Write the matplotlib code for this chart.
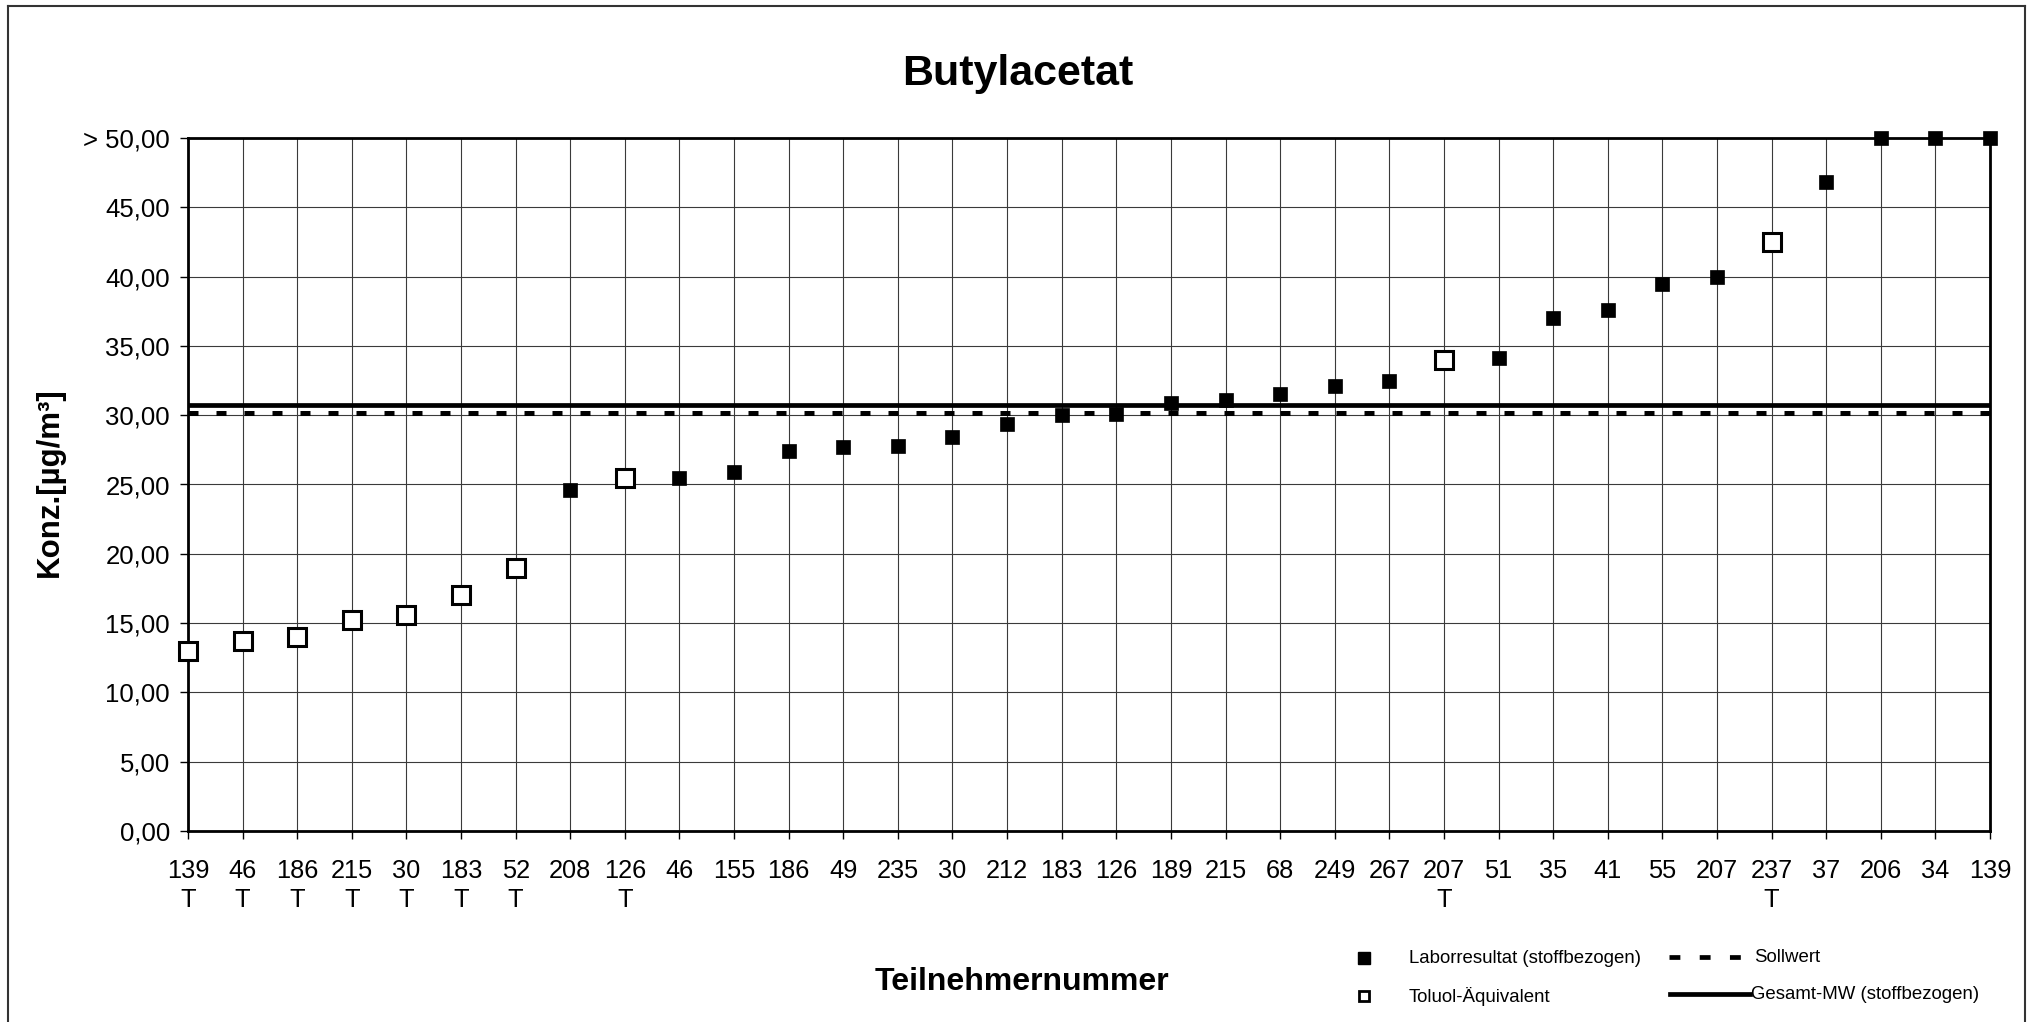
import matplotlib

matplotlib.use("Agg")
import matplotlib.pyplot as plt
from matplotlib.lines import Line2D

plt.rcParams["font.family"] = ["Liberation Sans", "DejaVu Sans"]

# Teilnehmernummer (sorted by result) and whether the value is a toluene equivalent
participants = ["139", "46", "186", "215", "30", "183", "52", "208", "126", "46",
                "155", "186", "49", "235", "30", "212", "183", "126", "189", "215",
                "68", "249", "267", "207", "51", "35", "41", "55", "207", "237",
                "37", "206", "34", "139"]
is_toluol = [True, True, True, True, True, True, True, False, True, False,
             False, False, False, False, False, False, False, False, False, False,
             False, False, False, True, False, False, False, False, False, True,
             False, False, False, False]
konz = [13.0, 13.7, 14.0, 15.2, 15.6, 17.0, 19.0, 24.6, 25.5, 25.5,
        25.9, 27.4, 27.7, 27.8, 28.4, 29.4, 30.0, 30.1, 30.9, 31.1,
        31.5, 32.1, 32.5, 34.0, 34.1, 37.0, 37.6, 39.5, 40.0, 42.5,
        46.8, 50.0, 50.0, 50.0]
sollwert = 30.15
gesamt_mw = 30.75

y_ticks = [0, 5, 10, 15, 20, 25, 30, 35, 40, 45, 50]

W, H = 2035, 1022
fig = plt.figure(figsize=(W / 100, H / 100), dpi=100)
ax = fig.add_axes([188 / W, 1 - 831 / H, (1990 - 188) / W, (831 - 138) / H])

x = list(range(len(konz)))
ax.set_xlim(0, len(konz) - 1)
ax.set_ylim(0, 50)

ax.grid(True, color="#3a3a3a", linewidth=0.8, zorder=0)
ax.set_axisbelow(True)

ax.axhline(sollwert, color="black", linewidth=3.6, dashes=(2.0, 3.6), zorder=3)
ax.axhline(gesamt_mw, color="black", linewidth=3.4, zorder=3)

xf = [xi for xi, t in zip(x, is_toluol) if not t]
yf = [yi for yi, t in zip(konz, is_toluol) if not t]
xt = [xi for xi, t in zip(x, is_toluol) if t]
yt = [yi for yi, t in zip(konz, is_toluol) if t]
ax.plot(xf, yf, linestyle="none", marker="s", markersize=10.5, color="black",
        markeredgewidth=0.5, zorder=4, clip_on=False)
ax.plot(xt, yt, linestyle="none", marker="s", markersize=12.4, markerfacecolor="white",
        markeredgecolor="black", markeredgewidth=2.2, zorder=4, clip_on=False)

ax.set_xticks(x)
ax.set_xticklabels([p + ("\nT" if t else "") for p, t in zip(participants, is_toluol)],
                   fontsize=18.3, linespacing=1.3, va="top")
ax.set_yticks(y_ticks)
ax.set_yticklabels([("> " if v == 50 else "") + f"{v},00" for v in y_ticks], fontsize=18.5)
ax.tick_params(axis="both", direction="out", length=6, width=1, color="black")
ax.tick_params(axis="x", pad=14)
ax.tick_params(axis="y", pad=7)

for spine in ax.spines.values():
    spine.set_linewidth(2.0)
    spine.set_color("black")

fig.text(0.5, 1 - 74 / H, "Butylacetat", fontsize=31, fontweight="bold",
         ha="center", va="center")
fig.text(0.502, 1 - 982 / H, "Teilnehmernummer", fontsize=23, fontweight="bold",
         ha="center", va="center")
fig.text(50 / W, 1 - 482 / H, "Konz.[µg/m³]", fontsize=22.5, fontweight="bold",
         ha="center", va="center", rotation=90)

# legend, drawn by hand in figure pixels
def fx(px):
    return px / W


def fy(py):
    return 1 - py / H


fig.add_artist(Line2D([fx(1364)], [fy(958)], marker="s", markersize=9, color="black",
                      linestyle="none", transform=fig.transFigure))
fig.add_artist(Line2D([fx(1364)], [fy(996)], marker="s", markersize=7,
                      markerfacecolor="white", markeredgecolor="black",
                      markeredgewidth=2.0, linestyle="none", transform=fig.transFigure))
fig.add_artist(Line2D([fx(1669), fx(1742)], [fy(957), fy(957)], color="black",
                      linewidth=3.4, dashes=(2.3, 4.1), transform=fig.transFigure))
fig.add_artist(Line2D([fx(1670), fx(1750)], [fy(994), fy(994)], color="black",
                      linewidth=3.4, transform=fig.transFigure))
legend_font = 13.4
fig.text(fx(1409), fy(958), "Laborresultat (stoffbezogen)", fontsize=legend_font, va="center")
fig.text(fx(1409), fy(996), "Toluol-Äquivalent", fontsize=legend_font, va="center")
fig.text(fx(1754), fy(957), "Sollwert", fontsize=legend_font, va="center")
fig.text(fx(1751), fy(994), "Gesamt-MW (stoffbezogen)", fontsize=legend_font, va="center")

# outer chart frame
frame = dict(color="#333333", linewidth=1.5, transform=fig.transFigure)
fig.add_artist(Line2D([fx(8), fx(2025)], [fy(6), fy(6)], **frame))
fig.add_artist(Line2D([fx(8), fx(8)], [fy(6), fy(1022)], **frame))
fig.add_artist(Line2D([fx(2025), fx(2025)], [fy(6), fy(1022)], **frame))

fig.savefig("out.png", dpi=100)
